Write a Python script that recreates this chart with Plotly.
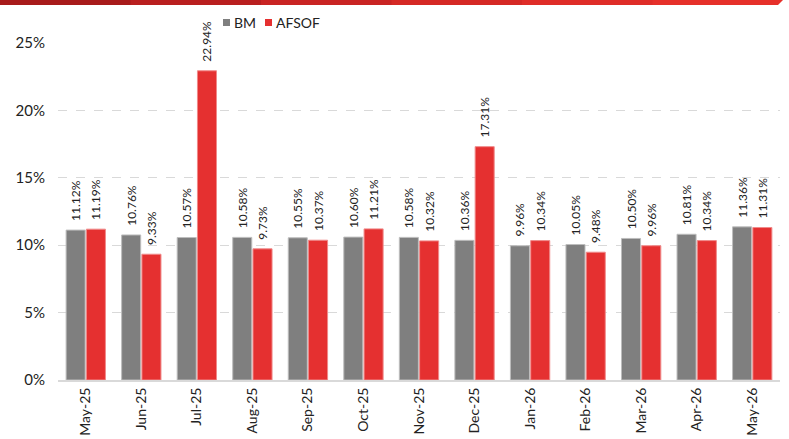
import plotly.graph_objects as go

categories = ["May-25", "Jun-25", "Jul-25", "Aug-25", "Sep-25", "Oct-25", "Nov-25",
              "Dec-25", "Jan-26", "Feb-26", "Mar-26", "Apr-26", "May-26"]
bm = [11.12, 10.76, 10.57, 10.58, 10.55, 10.60, 10.58, 10.36, 9.96, 10.05, 10.50, 10.81, 11.36]
afsof = [11.19, 9.33, 22.94, 9.73, 10.37, 11.21, 10.32, 17.31, 10.34, 9.48, 9.96, 10.34, 11.31]
y_ticks = [0, 5, 10, 15, 20, 25]
series_names = ["BM", "AFSOF"]
series_colors = ["#7f7f7f", "#e53030"]

FONT = "Lato, Liberation Sans, sans-serif"
W, H = 789, 439
ML, MR, MT, MB = 58, 9, 43, 59
PW, PH = W - ML - MR, H - MT - MB
PAD = "\u00a0\u00a0"  # small gap between bar top and its label


def px_x(x):
    return (x - ML) / PW


def px_y(y):
    return 1 - (y - MT) / PH


fig = go.Figure()
for name, vals, col, edge in [("BM", bm, series_colors[0], "#bdbdbd"),
                              ("AFSOF", afsof, series_colors[1], "#f08a8a")]:
    fig.add_trace(go.Bar(
        name=name, x=categories, y=vals,
        marker=dict(color=col, line=dict(color=edge, width=1)),
        text=[f"{PAD}{v:.2f}%" for v in vals], textposition="outside", textangle=-90,
        textfont=dict(size=12, color="#222222", family=FONT),
        constraintext="none", cliponaxis=False, showlegend=False,
    ))

# top red banner with a left-to-right gradient
shapes = []
grad = ["#a81b1b", "#b91f1f", "#c92423", "#d52925", "#df2d28", "#e6302a"]
seg = 783 / len(grad)
for i, c in enumerate(grad):
    xa, xb = i * seg, (i + 1) * seg + 1
    if i < len(grad) - 1:
        path = f"M {px_x(xa)} {px_y(0)} L {px_x(xb)} {px_y(0)} L {px_x(xb)} {px_y(5)} L {px_x(xa)} {px_y(5)} Z"
    else:
        path = f"M {px_x(xa)} {px_y(0)} L {px_x(783)} {px_y(0)} L {px_x(778)} {px_y(5)} L {px_x(xa)} {px_y(5)} Z"
    shapes.append(dict(type="path", xref="paper", yref="paper", path=path,
                       fillcolor=c, line=dict(width=0), layer="above"))

annotations = []
legend_x = [223, 265]
for i, name in enumerate(series_names):
    x0 = legend_x[i]
    shapes.append(dict(type="rect", xref="paper", yref="paper",
                       x0=px_x(x0), x1=px_x(x0 + 7), y0=px_y(26), y1=px_y(19),
                       fillcolor=series_colors[i], line=dict(width=0)))
    annotations.append(dict(xref="paper", yref="paper", x=px_x(x0 + 9), y=px_y(22.5),
                            xanchor="left", yanchor="middle", text=name, showarrow=False,
                            font=dict(size=14, color="#222222", family=FONT)))

fig.update_layout(
    width=W, height=H,
    margin=dict(l=ML, r=MR, t=MT, b=MB, autoexpand=False),
    paper_bgcolor="white", plot_bgcolor="white",
    barmode="group", bargap=0.27, bargroupgap=0.06,
    font=dict(family=FONT, color="#222222"),
    showlegend=False,
    shapes=shapes, annotations=annotations,
)
fig.update_xaxes(showline=True, linecolor="#d9d9d9", linewidth=2, tickangle=-90,
                 tickfont=dict(size=14, color="#222222"), ticks="", showgrid=False,
                 automargin=False)
fig.update_yaxes(range=[0, 25], tickvals=y_ticks, ticktext=[f"{v}%" for v in y_ticks],
                 showgrid=True, gridcolor="#d9d9d9", griddash="dash", gridwidth=1,
                 zeroline=False, showline=False, tickfont=dict(size=15, color="#222222"),
                 ticks="", ticklabelstandoff=12, automargin=False)

fig.write_html("out.html", config={"displayModeBar": False},
               post_script="document.body.style.margin='0';document.body.style.padding='0';")
